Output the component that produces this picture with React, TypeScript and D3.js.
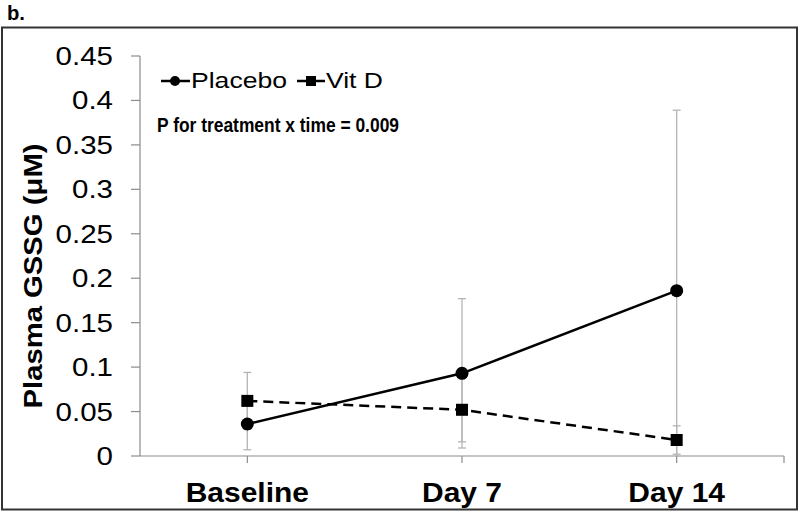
import React from "react";
import * as d3 from "d3";

const categories = ["Baseline", "Day 7", "Day 14"];
const placeboMean = [0.036, 0.093, 0.186];
const placeboErr = [0.029, 0.084, 0.203];
const vitDMean = [0.062, 0.052, 0.018];
const vitDErr = [0.032, 0.036, 0.016];
const yTicks = [0, 0.05, 0.1, 0.15, 0.2, 0.25, 0.3, 0.35, 0.4, 0.45];
const yTickLabels = ["0", "0.05", "0.1", "0.15", "0.2", "0.25", "0.3", "0.35", "0.4", "0.45"];

const FONT = "'Liberation Sans', Arial, sans-serif";

export default function App() {
  const W = 800, H = 513;
  const x = d3.scalePoint<string>().domain(categories).range([140, 784]).padding(0.5);
  const y = d3.scaleLinear().domain([0, 0.45]).range([456, 56]);
  const line = d3.line<[number, number]>().x(d => d[0]).y(d => d[1]);
  const placeboPts = categories.map((c, i) => [x(c)!, y(placeboMean[i])] as [number, number]);
  const vitDPts = categories.map((c, i) => [x(c)!, y(vitDMean[i])] as [number, number]);

  const errBars = (means: number[], errs: number[], key: string) =>
    categories.map((c, i) => {
      const cx = x(c)!;
      const hi = means[i] + errs[i];
      const loRaw = means[i] - errs[i];
      const lo = Math.max(0, loRaw);
      return (
        <g key={key + i} stroke="#b5b5b5" strokeWidth={1.3}>
          <line x1={cx} x2={cx} y1={y(hi)} y2={y(lo)} />
          <line x1={cx - 4} x2={cx + 4} y1={y(hi)} y2={y(hi)} />
          {loRaw >= 0 && <line x1={cx - 4} x2={cx + 4} y1={y(lo)} y2={y(lo)} />}
        </g>
      );
    });

  return (
    <svg width={W} height={H} style={{ position: "absolute", left: 0, top: 0, background: "#fff" }}>
      <rect x={0} y={0} width={W} height={H} fill="#fff" />
      <text x={7} y={20} fontFamily={FONT} fontWeight="bold" fontSize={20} textLength={18} lengthAdjust="spacingAndGlyphs">b.</text>
      <rect x={2} y={27.5} width={795} height={482} fill="none" stroke="#333" strokeWidth={2} />

      {/* y axis */}
      <line x1={140} x2={140} y1={y(0.45)} y2={y(0)} stroke="#8c8c8c" strokeWidth={1.2} />
      {yTicks.map((t, i) => (
        <g key={"yt" + i}>
          <line x1={131} x2={140} y1={y(t)} y2={y(t)} stroke="#8c8c8c" strokeWidth={1.2} />
          <text transform={`translate(113,${y(t) + 9}) scale(1.18,1)`} textAnchor="end"
            fontFamily={FONT} fontSize={25} fill="#000">{yTickLabels[i]}</text>
        </g>
      ))}
      {/* x axis */}
      <line x1={140} x2={784} y1={y(0)} y2={y(0)} stroke="#8c8c8c" strokeWidth={1.2} />
      {categories.map(c => (
        <line key={"xt" + c} x1={x(c)!} x2={x(c)!} y1={y(0)} y2={y(0) + 7} stroke="#8c8c8c" strokeWidth={1.2} />
      ))}
      <line x1={784} x2={784} y1={y(0)} y2={y(0) + 7} stroke="#8c8c8c" strokeWidth={1.2} />
      {categories.map(c => (
        <text key={"xl" + c} transform={`translate(${x(c)!},502) scale(1.11,1)`} textAnchor="middle"
          fontFamily={FONT} fontWeight="bold" fontSize={27} fill="#000">{c}</text>
      ))}

      {/* y title */}
      <text transform={`translate(42,276) rotate(-90)`} textAnchor="middle" fontFamily={FONT}
        fontWeight="bold" fontSize={26} textLength={265} lengthAdjust="spacingAndGlyphs" fill="#000">Plasma GSSG (μM)</text>

      {/* error bars */}
      {errBars(placeboMean, placeboErr, "pe")}
      {errBars(vitDMean, vitDErr, "ve")}

      {/* lines */}
      <path d={line(vitDPts)!} fill="none" stroke="#000" strokeWidth={2.5} strokeDasharray="10,6" />
      <path d={line(placeboPts)!} fill="none" stroke="#000" strokeWidth={2.5} />
      {placeboPts.map((p, i) => <circle key={"pc" + i} cx={p[0]} cy={p[1]} r={6.5} fill="#000" />)}
      {vitDPts.map((p, i) => <rect key={"vs" + i} x={p[0] - 6} y={p[1] - 6} width={12} height={12} fill="#000" />)}

      {/* legend */}
      <line x1={161} x2={190} y1={81} y2={81} stroke="#000" strokeWidth={2.5} />
      <circle cx={175} cy={81} r={5} fill="#000" />
      <text x={191} y={88} fontFamily={FONT} fontSize={22} textLength={96} lengthAdjust="spacingAndGlyphs" fill="#000">Placebo</text>
      <line x1={297} x2={325} y1={81} y2={81} stroke="#000" strokeWidth={2.5} />
      <rect x={306} y={76} width={10} height={10} fill="#000" />
      <text x={326} y={88} fontFamily={FONT} fontSize={22} textLength={57} lengthAdjust="spacingAndGlyphs" fill="#000">Vit D</text>

      <text x={157} y={132} fontFamily={FONT} fontWeight="bold" fontSize={20} textLength={242} lengthAdjust="spacingAndGlyphs" fill="#000">P for treatment x time = 0.009</text>
    </svg>
  );
}
